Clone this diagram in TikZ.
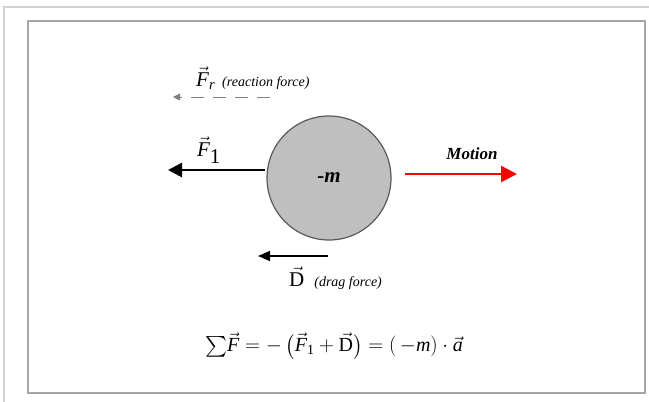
\documentclass[tikz,border=0pt]{standalone}
\usepackage{amsmath}
\usepackage{fontspec}
\setmainfont{Liberation Serif}
\usetikzlibrary{arrows.meta}
\newcommand{\vecit}[1]{\vec{\textit{#1}}}
\begin{document}
\begin{tikzpicture}[x=1pt,y=-1pt,
  lbl/.style={inner sep=0pt,font=\fontsize{21}{24}\selectfont},
  ball/.style={circle,draw=black!65,line width=1.2pt,fill=black!25,minimum size=124pt,inner sep=0pt,font=\fontsize{21}{24}\selectfont\bfseries\itshape}]
\useasboundingbox (0,0) rectangle (649,402);
% frames
\draw[black!18,line width=2pt] (4,402) -- (4,7) -- (649,7);
\draw[black!35,line width=1.2pt] (28,21) rectangle (645,393);
% body
\node[ball] (mass) at (329,178) {-m};
% arrow ends
\coordinate (fr0) at (270,97);
\coordinate (fr1) at (173,97);
\coordinate (f10) at (265,170);
\coordinate (f11) at (168,170);
\coordinate (d0) at (328,256);
\coordinate (d1) at (258,256);
\coordinate (mo0) at (405,174);
\coordinate (mo1) at (517,174);
\draw[black!50,line width=0.9pt,dash pattern=on 13pt off 9pt,-{Triangle[length=7pt,width=7pt]}] (fr0) -- (fr1);
\draw[line width=2.8pt,-{Triangle[length=14pt,width=14pt]}] (f10) -- (f11);
\draw[line width=1.3pt,-{Triangle[length=12pt,width=10pt]}] (d0) -- (d1);
\draw[red,line width=2.4pt,-{Triangle[length=16pt,width=16pt]}] (mo0) -- (mo1);
% labels
\node[lbl,anchor=west] (frlbl) at (196,78) {$\vecit{F}_{\textit{r}}$\hspace{7pt}{\fontsize{14}{16}\selectfont\itshape(reaction force)}};
\node[lbl] (f1lbl) at (209,150) {$\vecit{F}_{\raisebox{-3pt}{\textrm{1}}}$};
\node[lbl,font=\fontsize{17}{20}\selectfont\bfseries\itshape] (molbl) at (472,154) {Motion};
\node[lbl,anchor=west] (dlbl) at (289,278) {$\vec{\textrm{D}}$\hspace{10pt}{\fontsize{14}{16}\selectfont\itshape(drag force)}};
\node[lbl,font=\fontsize{20}{24}\selectfont] (eq) at (334,346) {$\sum\!\vecit{F} = -\left(\vecit{F}_{\textrm{1}} + \vec{\textrm{D}}\right) = (\,-\textit{m})\cdot\vecit{a}$};
\end{tikzpicture}
\end{document}
